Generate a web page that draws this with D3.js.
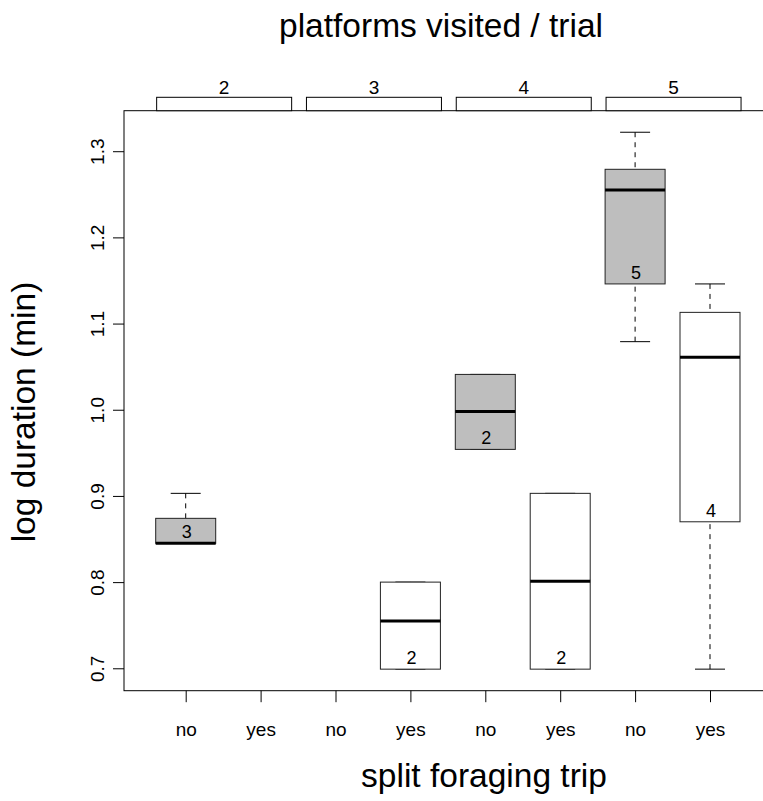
<!DOCTYPE html>
<html>
<head>
<meta charset="utf-8">
<script src="https://cdn.jsdelivr.net/npm/d3@7"></script>
<style>
	body { margin: 0; background: white; }
	text { font-family: 'Liberation Sans', Arial, sans-serif; fill: black; }
</style>
</head>
<body>
<div id="chart"></div>
<script>
	// platforms visited per trial (panels) and split trip (x categories)
	const facets = ['2', '3', '4', '5'];
	const groups = ['no', 'yes'];

	// box statistics, one entry per panel x group (null = no data)
	const whiskerLow = [0.845, null, null, 0.699, 0.954, 0.699, 1.079, 0.699];
	const lowerHinge = [0.845, null, null, 0.699, 0.954, 0.699, 1.146, 0.870];
	const medians = [0.845, null, null, 0.755, 0.998, 0.801, 1.255, 1.061];
	const upperHinge = [0.874, null, null, 0.80, 1.041, 0.903, 1.279, 1.113];
	const whiskerHigh = [0.903, null, null, 0.80, 1.041, 0.903, 1.322, 1.146];
	const counts = [3, null, null, 2, 2, 2, 5, 4];

	const yTicks = [0.7, 0.8, 0.9, 1.0, 1.1, 1.2, 1.3];

	const W = 763,
		H = 801;
	const plot = { left: 124, top: 110.7, bottom: 690.7 };
	const fontMain = 33.5;
	const fontTick = 19;

	const svg = d3
		.select('#chart')
		.append('svg')
		.attr('width', W)
		.attr('height', H);

	const boxes = d3.range(8).map((i) => ({
		pos: i + 1,
		facet: facets[Math.floor(i / 2)],
		group: groups[i % 2],
		lo: whiskerLow[i],
		q1: lowerHinge[i],
		med: medians[i],
		q3: upperHinge[i],
		hi: whiskerHigh[i],
		n: counts[i],
	}));

	// scales
	const x = d3.scaleLinear().domain([1, 8]).range([185.7, 710]);
	const y = d3
		.scaleLinear()
		.domain([0.674, 1.347])
		.range([plot.bottom, plot.top]);
	const right = x(8.82);

	// frame
	svg.append('rect')
		.attr('x', plot.left)
		.attr('y', plot.top)
		.attr('width', right - plot.left)
		.attr('height', plot.bottom - plot.top)
		.attr('fill', 'none')
		.attr('stroke', 'black')
		.attr('stroke-width', 1);

	// strips on top with the panel labels above them
	const strip = svg
		.selectAll('.strip')
		.data(facets)
		.enter()
		.append('g')
		.attr('class', 'strip')
		.attr('transform', (d, i) => `translate(${(x(2 * i + 1) + x(2 * i + 2)) / 2 + 1},0)`);
	strip.append('rect')
		.attr('x', -67.5)
		.attr('y', 97.3)
		.attr('width', 135)
		.attr('height', plot.top - 97.3)
		.attr('fill', 'white')
		.attr('stroke', 'black')
		.attr('stroke-width', 1);
	strip.append('text')
		.attr('y', 93.5)
		.attr('text-anchor', 'middle')
		.attr('font-size', fontTick)
		.text((d) => d);

	// Y axis
	const yAxis = svg
		.append('g')
		.attr('transform', `translate(${plot.left},0)`)
		.call(
			d3
				.axisLeft(y)
				.tickValues(yTicks)
				.tickFormat(d3.format('.1f'))
				.tickSize(11)
		);
	yAxis.select('.domain').remove();
	yAxis.selectAll('line').attr('stroke', 'black');
	yAxis.selectAll('text')
		.attr('x', null)
		.attr('dy', null)
		.attr('fill', 'black')
		.attr('font-size', fontTick)
		.attr('font-family', 'Liberation Sans, Arial, sans-serif')
		.attr('text-anchor', 'middle')
		.attr('transform', 'translate(-20,0) rotate(-90)');

	// X axis
	const xAxis = svg
		.append('g')
		.attr('transform', `translate(0,${plot.bottom})`)
		.call(
			d3
				.axisBottom(x)
				.tickValues(boxes.map((d) => d.pos))
				.tickFormat((d, i) => boxes[i].group)
				.tickSize(11.5)
		);
	xAxis.select('.domain').remove();
	xAxis.selectAll('line').attr('stroke', 'black');
	xAxis.selectAll('text')
		.attr('y', 45.3)
		.attr('dy', null)
		.attr('fill', 'black')
		.attr('font-size', fontTick)
		.attr('font-family', 'Liberation Sans, Arial, sans-serif');

	// boxes
	const bw = 60,
		cw = 30;
	const box = svg
		.selectAll('.box')
		.data(boxes.filter((d) => d.n !== null))
		.enter()
		.append('g')
		.attr('class', 'box');

	// whiskers
	box.selectAll('.whisker')
		.data((d) => [
			[d, d.hi, d.q3],
			[d, d.lo, d.q1],
		])
		.enter()
		.append('line')
		.attr('x1', (a) => x(a[0].pos))
		.attr('x2', (a) => x(a[0].pos))
		.attr('y1', (a) => y(a[1]))
		.attr('y2', (a) => y(a[2]))
		.attr('stroke', 'black')
		.attr('stroke-dasharray', '5,5');
	box.selectAll('.cap')
		.data((d) => [
			[d, d.hi],
			[d, d.lo],
		])
		.enter()
		.append('line')
		.attr('x1', (a) => x(a[0].pos) - cw / 2)
		.attr('x2', (a) => x(a[0].pos) + cw / 2)
		.attr('y1', (a) => y(a[1]))
		.attr('y2', (a) => y(a[1]))
		.attr('stroke', 'black');

	box.append('rect')
		.attr('x', (d) => x(d.pos) - bw / 2)
		.attr('y', (d) => y(d.q3))
		.attr('width', bw)
		.attr('height', (d) => y(d.q1) - y(d.q3))
		.attr('fill', (d) => (d.group === 'no' ? '#bebebe' : 'white'))
		.attr('stroke', '#222')
		.attr('stroke-width', 1);

	box.append('line')
		.attr('x1', (d) => x(d.pos) - bw / 2)
		.attr('x2', (d) => x(d.pos) + bw / 2)
		.attr('y1', (d) => y(d.med))
		.attr('y2', (d) => y(d.med))
		.attr('stroke', 'black')
		.attr('stroke-width', 3);

	// sample sizes
	box.append('text')
		.attr('x', (d) => x(d.pos) + 1)
		.attr('y', (d) => y(d.q1) - 5)
		.attr('text-anchor', 'middle')
		.attr('font-size', 18)
		.text((d) => d.n);

	// titles
	svg.append('text')
		.attr('x', 441)
		.attr('y', 37)
		.attr('text-anchor', 'middle')
		.attr('font-size', fontMain)
		.text('platforms visited / trial');

	svg.append('text')
		.attr('x', 484)
		.attr('y', 787)
		.attr('text-anchor', 'middle')
		.attr('font-size', fontMain)
		.text('split foraging trip');

	svg.append('text')
		.attr('transform', 'translate(35,412) rotate(-90)')
		.attr('text-anchor', 'middle')
		.attr('font-size', fontMain)
		.text('log duration (min)');
</script>
</body>
</html>
